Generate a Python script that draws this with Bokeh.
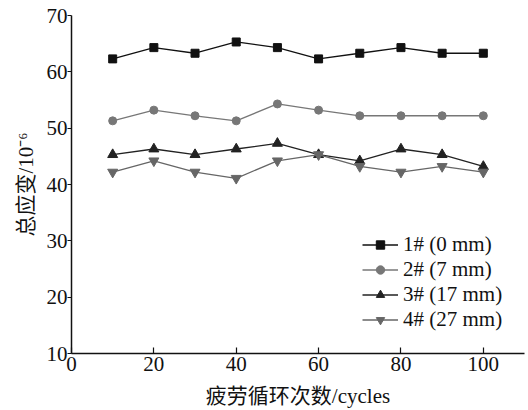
from bokeh.plotting import figure
from bokeh.models import Range1d, FixedTicker, Legend, LegendItem
from bokeh.embed import file_html
from bokeh.resources import INLINE

cycles = [10, 20, 30, 40, 50, 60, 70, 80, 90, 100]
s1 = [62.3, 64.3, 63.3, 65.3, 64.3, 62.3, 63.3, 64.3, 63.3, 63.3]
s2 = [51.3, 53.2, 52.2, 51.3, 54.3, 53.2, 52.2, 52.2, 52.2, 52.2]
s3 = [45.3, 46.3, 45.3, 46.3, 47.3, 45.3, 44.2, 46.3, 45.3, 43.2]
s4 = [42.2, 44.2, 42.2, 41.1, 44.2, 45.3, 43.2, 42.2, 43.2, 42.2]
labels = ["1# (0 mm)", "2# (7 mm)", "3# (17 mm)", "4# (27 mm)"]
x_ticks = [0, 20, 40, 60, 80, 100]
y_ticks = [10, 20, 30, 40, 50, 60, 70]

FONT = "Liberation Serif, Noto Sans CJK SC"

p = figure(width=528, height=410, output_backend="svg", toolbar_location=None,
           x_range=Range1d(0, 110), y_range=Range1d(10, 70),
           min_border_left=71, min_border_right=4, min_border_top=15, min_border_bottom=57)
p.outline_line_color = None
p.xgrid.visible = False
p.ygrid.visible = False
p.background_fill_color = "white"

for ax in (p.xaxis[0], p.yaxis[0]):
    ax.major_label_text_font = FONT
    ax.major_label_text_font_size = "21px"
    ax.major_label_text_color = "#111111"
    ax.axis_label_text_font = FONT
    ax.axis_label_text_font_size = "21px"
    ax.axis_label_text_font_style = "normal"
    ax.axis_label_text_color = "#111111"
    ax.axis_line_width = 1.5
    ax.axis_line_color = "#111111"
    ax.major_tick_line_color = "#111111"
    ax.major_tick_line_width = 1.2
    ax.minor_tick_line_color = None

p.xaxis.ticker = FixedTicker(ticks=x_ticks)
p.yaxis.ticker = FixedTicker(ticks=y_ticks)
p.xaxis.major_tick_in = 6
p.xaxis.major_tick_out = 0
p.yaxis.major_tick_in = 0
p.yaxis.major_tick_out = 4
p.xaxis.major_label_standoff = 3
p.yaxis.major_label_standoff = 0
p.xaxis.axis_label = "疲劳循环次数/cycles"
p.yaxis.axis_label = "总应变/10⁻⁶"
p.xaxis.axis_label_standoff = 10
p.yaxis.axis_label_standoff = 6

series = [s1, s2, s3, s4]
colors = ["#111111", "#777777", "#222222", "#666666"]
markers = ["square", "circle", "triangle", "inverted_triangle"]
sizes = [8, 8, 10, 10]
items = []
for s, c, m, sz, lab in zip(series, colors, markers, sizes, labels):
    r1 = p.line(cycles, s, line_color=c, line_width=1.3)
    r2 = p.scatter(cycles, s, marker=m, size=sz, fill_color=c, line_color=c)
    items.append(LegendItem(label=lab, renderers=[r1, r2]))

legend = Legend(items=items, location=(291, 21), border_line_color=None,
                background_fill_alpha=0, label_text_font=FONT,
                label_text_font_size="21px", label_text_color="#111111",
                glyph_width=36, glyph_height=21, label_height=21,
                spacing=0, padding=0, margin=0, label_standoff=5)
p.add_layout(legend, "center")

open("out.html", "w").write(file_html(p, INLINE))
